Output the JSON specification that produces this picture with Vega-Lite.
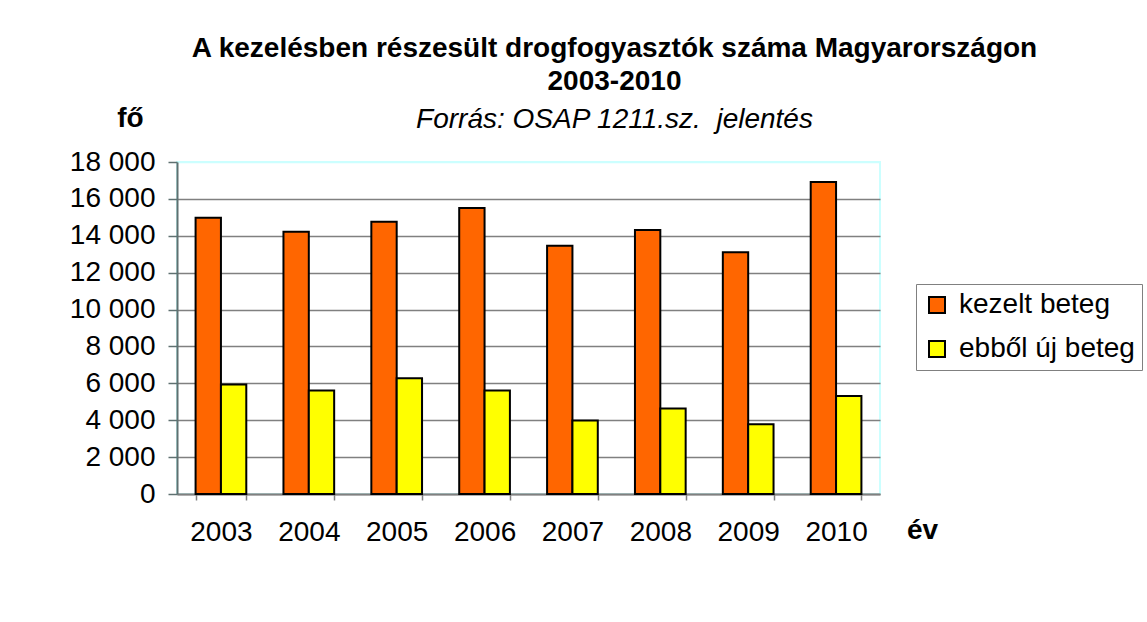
{
  "$schema": "https://vega.github.io/schema/vega-lite/v6.json",
  "width": 703,
  "height": 332,
  "autosize": {"type": "none"},
  "padding": {"left": 177, "top": 162, "right": 267, "bottom": 128},
  "background": "white",
  "title": {
    "text": ["A kezelésben részesült drogfogyasztók száma Magyarországon", "2003-2010"],
    "subtitle": "Forrás: OSAP 1211.sz. \u00a0jelentés",
    "anchor": "middle",
    "frame": "group",
    "dx": 86,
    "font": "Liberation Sans",
    "fontSize": 28,
    "fontWeight": "bold",
    "lineHeight": 33,
    "color": "black",
    "subtitleFont": "Liberation Sans",
    "subtitleFontSize": 28,
    "subtitleFontStyle": "italic",
    "subtitleColor": "black",
    "subtitlePadding": 10,
    "offset": -30
  },
  "data": {
    "values": [
      {"year": "2003", "series": "kezelt beteg", "value": 14980},
      {"year": "2004", "series": "kezelt beteg", "value": 14220},
      {"year": "2005", "series": "kezelt beteg", "value": 14760},
      {"year": "2006", "series": "kezelt beteg", "value": 15510},
      {"year": "2007", "series": "kezelt beteg", "value": 13460},
      {"year": "2008", "series": "kezelt beteg", "value": 14310},
      {"year": "2009", "series": "kezelt beteg", "value": 13110},
      {"year": "2010", "series": "kezelt beteg", "value": 16920},
      {"year": "2003", "series": "ebből új beteg", "value": 5940},
      {"year": "2004", "series": "ebből új beteg", "value": 5610},
      {"year": "2005", "series": "ebből új beteg", "value": 6270},
      {"year": "2006", "series": "ebből új beteg", "value": 5610},
      {"year": "2007", "series": "ebből új beteg", "value": 3980},
      {"year": "2008", "series": "ebből új beteg", "value": 4640},
      {"year": "2009", "series": "ebből új beteg", "value": 3780},
      {"year": "2010", "series": "ebből új beteg", "value": 5310}
    ]
  },
  "mark": {"type": "bar", "stroke": "black", "strokeWidth": 2},
  "encoding": {
    "x": {
      "field": "year",
      "type": "nominal",
      "scale": {"paddingInner": 0.423, "paddingOuter": 0.2115},
      "axis": {
        "title": "év",
        "labelAngle": 0,
        "tickBand": "extent",
        "grid": false,
        "domainColor": "#808080",
        "domainWidth": 2,
        "tickColor": "#808080",
        "tickWidth": 1.5,
        "tickSize": 6,
        "labelFont": "Liberation Sans",
        "labelFontSize": 28,
        "labelColor": "black",
        "labelPadding": 18,
        "titleFont": "Liberation Sans",
        "titleFontSize": 28,
        "titleFontWeight": "bold",
        "titleColor": "black",
        "titleAlign": "center",
        "titleBaseline": "middle",
        "titleX": 745,
        "titleY": 36
      }
    },
    "xOffset": {
      "field": "series",
      "scale": {"domain": ["kezelt beteg", "ebből új beteg"], "paddingInner": 0, "paddingOuter": 0}
    },
    "y": {
      "field": "value",
      "type": "quantitative",
      "scale": {"domain": [0, 18000], "nice": false},
      "axis": {
        "values": [0, 2000, 4000, 6000, 8000, 10000, 12000, 14000, 16000, 18000],
        "labelExpr": "replace(format(datum.value, ','), ',', ' ')",
        "title": "fő",
        "titleAngle": 0,
        "titleX": -47,
        "titleY": -44,
        "titleAlign": "center",
        "titleBaseline": "middle",
        "titleFont": "Liberation Sans",
        "titleFontSize": 28,
        "titleFontWeight": "bold",
        "titleColor": "black",
        "domainColor": "#5f7070",
        "domainWidth": 2,
        "tickColor": "#5f7070",
        "tickWidth": 1.5,
        "tickSize": 9,
        "labelFont": "Liberation Sans",
        "labelFontSize": 28,
        "labelColor": "black",
        "labelPadding": 13,
        "grid": true,
        "gridColor": {"condition": {"test": "datum.value === 18000", "value": "#ccffff"}, "value": "#808080"},
        "gridWidth": 1.5
      }
    },
    "color": {
      "field": "series",
      "type": "nominal",
      "scale": {"domain": ["kezelt beteg", "ebből új beteg"], "range": ["#ff6600", "#ffff00"]},
      "legend": {
        "orient": "none",
        "legendX": 739,
        "legendY": 122,
        "title": null,
        "strokeColor": "#808080",
        "fillColor": "white",
        "padding": 7,
        "rowPadding": 16,
        "labelFont": "Liberation Sans",
        "labelFontSize": 28,
        "labelLimit": 400,
        "labelColor": "black",
        "labelOffset": 8,
        "symbolType": "square",
        "symbolSize": 256,
        "symbolStrokeColor": "black",
        "symbolStrokeWidth": 2,
        "symbolOpacity": 1
      }
    }
  },
  "config": {
    "view": {"stroke": "#ccffff", "strokeWidth": 2}
  }
}
